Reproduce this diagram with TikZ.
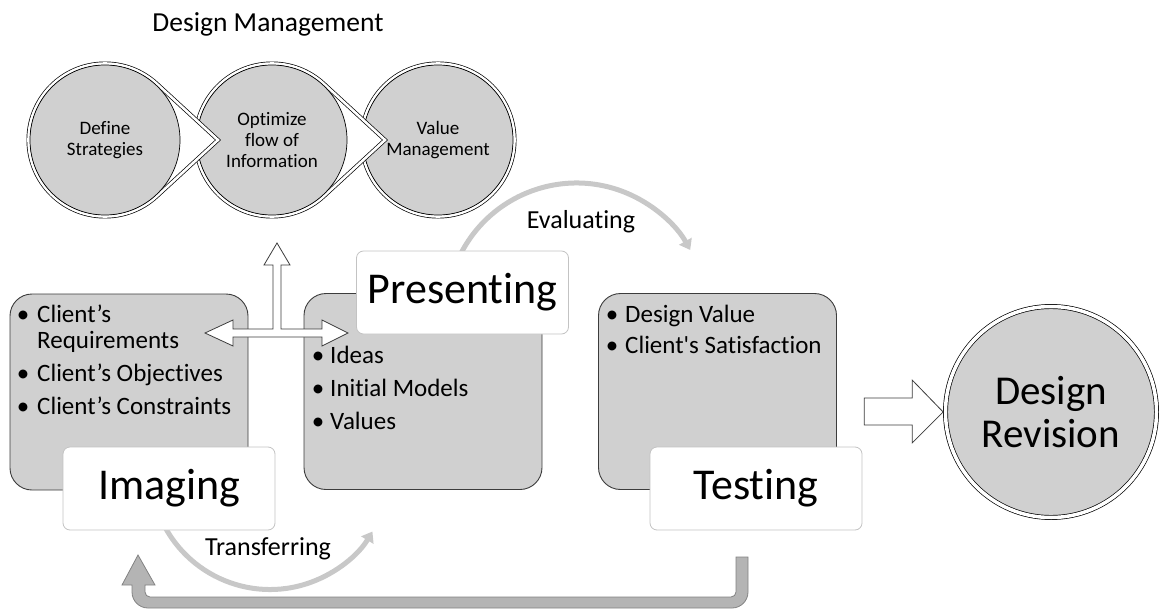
\documentclass[tikz,border=0pt]{standalone}
\usepackage{fontspec}
\setmainfont{Carlito}[Ligatures=NoCommon]
\usetikzlibrary{arrows.meta}
\usetikzlibrary{calc}

\definecolor{boxgray}{RGB}{208,208,208}
\definecolor{arcgray}{RGB}{200,200,200}
\definecolor{loopgray}{RGB}{180,180,180}
\definecolor{loopedge}{RGB}{130,130,130}
\definecolor{edgegray}{RGB}{60,60,60}
\definecolor{labeledge}{RGB}{195,195,195}

\tikzset{
  contentbox/.style={draw=edgegray, fill=boxgray, line width=0.9pt, rounded corners=22pt, minimum width=238pt, minimum height=196pt, inner sep=0pt},
  labelbox/.style={draw=labeledge, fill=white, line width=0.8pt, rounded corners=7pt, minimum width=212pt, minimum height=83pt, inner sep=0pt, font=\fontsize{44}{50}\selectfont},
  ring/.style={draw=black, line width=0.7pt, double=white, double distance=2.6pt, fill=white, line join=miter},
  topcircle/.style={circle, draw=black, line width=0.7pt, fill=boxgray, minimum size=150pt, inner sep=0pt, align=center, font=\fontsize{19}{21}\selectfont},
  itemtext/.style={anchor=base west, inner sep=0pt, font=\fontsize{25}{28}\selectfont},
  itemdot/.style={anchor=base, inner sep=0pt, font=\fontsize{25}{28}\selectfont},
  looparc/.style={draw=arcgray, line width=5pt, -{Triangle[width=14pt,length=10pt]}},
  blockarrow/.style={draw=edgegray, fill=white, line width=0.8pt, line join=miter},
  steplabel/.style={anchor=base, inner sep=0pt, font=\fontsize{26}{30}\selectfont}
}

\begin{document}
\begin{tikzpicture}[x=1pt, y=-1pt]
    \useasboundingbox (0,0) rectangle (1159,610);
    \node[steplabel, font=\fontsize{27.5}{30}\selectfont] (dmtitle) at (268,32) {Design Management};
    \coordinate (c1) at (105,140);
    \coordinate (c2) at (272,140);
    \coordinate (c3) at (438,140);
    \path[ring] (c3) circle[radius=76.5]; % last circle, no tail
    \node[topcircle] (valmgmt) at (c3) {Value\\Management};
    \path[ring] ($(c2)+(113,0)$) -- ($(c2)+(47.4:76.5)$) arc[start angle=47.4, end angle=312.6, radius=76.5] -- cycle;
    \node[topcircle] (optflow) at (c2) {Optimize\\flow of\\Information};
    \path[ring] ($(c1)+(113,0)$) -- ($(c1)+(47.4:76.5)$) arc[start angle=47.4, end angle=312.6, radius=76.5] -- cycle;
    \node[topcircle] (defstrat) at (c1) {Define\\Strategies};

    \node[contentbox] (imgbox) at (129,392) {};
    \node[contentbox] (prsbox) at (423,391.5) {};
    \node[contentbox] (tstbox) at (717.5,391.5) {};

    \coordinate (evc) at (576.5,313);
    \draw[looparc] ($(evc)+(205:130)$) arc[start angle=205, end angle=331, radius=130]; % Evaluating
    \coordinate (trc) at (270,470);
    \draw[looparc] ($(trc)+(160:119.5)$) arc[start angle=160, end angle=31, radius=119.5]; % Transferring

    \coordinate (hub) at (277,333);
    \draw[blockarrow, shift={(hub)}] (-72,0) -- (-44,-13) -- (-44,-4) -- (-4,-4) -- (-4,-68) -- (-13,-68) -- (0,-90) -- (13,-68) -- (4,-68) -- (4,-4) -- (45,-4) -- (45,-13) -- (71,0) -- (45,13) -- (45,4) -- (-44,4) -- (-44,13) -- cycle;

    \node[labelbox] (imaging) at (169,488.5) {Imaging};
    \node[labelbox] (presenting) at (462.5,292.5) {Presenting};
    \node[labelbox] (testing) at (756,488.5) {Testing};

    \node[steplabel] (evaluating) at (581,228) {Evaluating};
    \node[steplabel] (transferring) at (268,555) {Transferring};

    \foreach \n/\x/\y in {1/23/322, 2/23/381, 3/23/414, 4/318/363, 5/318/396, 6/318/429, 7/612/322, 8/612/353}
        \node[itemdot] (dot\n) at (\x,\y) {\textbullet};
    \node[itemtext] (req1) at (37,322) {Client’s};
    \node[itemtext] (req2) at (37,348) {Requirements};
    \node[itemtext] (obj) at (37,381) {Client’s Objectives};
    \node[itemtext] (cons) at (37,414) {Client’s Constraints};
    \node[itemtext] (ideas) at (330,363) {Ideas};
    \node[itemtext] (models) at (330,396) {Initial Models};
    \node[itemtext] (values) at (330,429) {Values};
    \node[itemtext] (dval) at (625,322) {Design Value};
    \node[itemtext] (satis) at (625,353) {Client\textquotesingle s Satisfaction};

    \node[circle, draw=black, line width=0.7pt, double=white, double distance=3.5pt, fill=boxgray, minimum size=211pt, inner sep=0pt, align=center, font=\fontsize{41}{43}\selectfont] (revision) at (1051,412) {Design\\Revision};
    \draw[blockarrow, shift={(revision.west)}] (-81,-14) -- (-33,-14) -- (-33,-32) -- (-2,0) -- (-33,31) -- (-33,13) -- (-81,13) -- cycle;

    % feedback from testing back to imaging
    \draw[draw=loopedge, fill=loopgray, line width=0.8pt] (736,557) -- (748,557) [rounded corners=16pt] -- (748,608) -- (132,608) [sharp corners] -- (132,585) -- (122,585) -- (138,555) -- (155,585) -- (145,585) [rounded corners=5pt] -- (145,597) -- (736,597) [sharp corners] -- cycle;
\end{tikzpicture}
\end{document}
